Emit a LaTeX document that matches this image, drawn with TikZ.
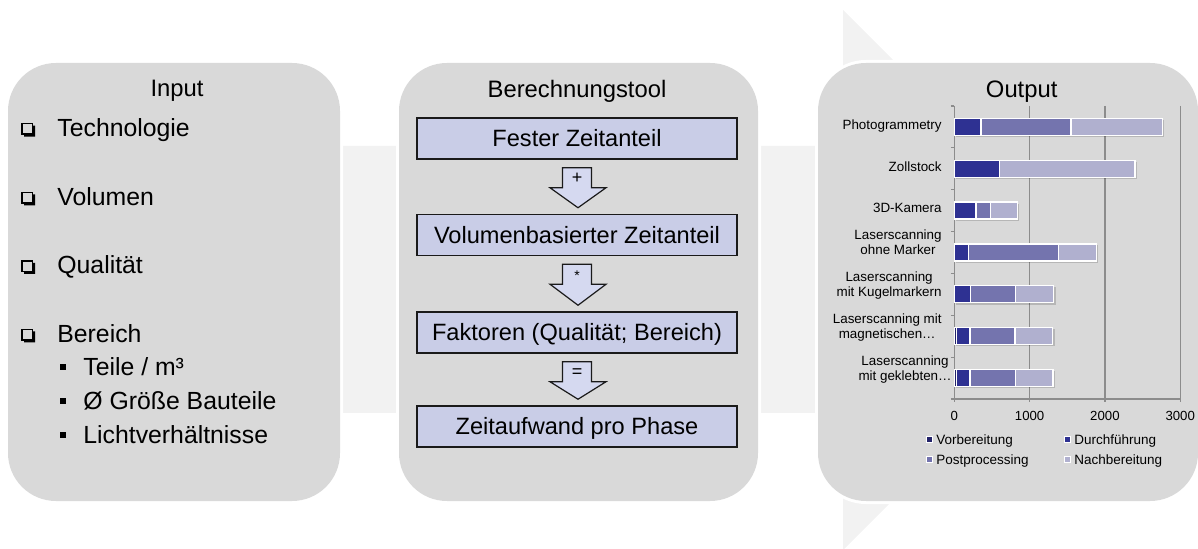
\documentclass[tikz,border=0pt]{standalone}
\usepackage{fontspec}
\setmainfont{Liberation Sans}
\usetikzlibrary{calc}
\definecolor{boxgray}{HTML}{D9D9D9}
\definecolor{bandgray}{HTML}{F2F2F2}
\definecolor{lav}{HTML}{C9CDE7}
\definecolor{lavarrow}{HTML}{D5D9F0}
\definecolor{boxline}{HTML}{1A1A1A}
\definecolor{cvorb}{HTML}{24246A}
\definecolor{cdurch}{HTML}{2E3192}
\definecolor{cpost}{HTML}{7474AE}
\definecolor{cnach}{HTML}{B0B0CF}
\definecolor{gridc}{HTML}{8C8C8C}
\newcommand\chartseg[4]{\filldraw[fill=#4, draw=white, line width=0.6pt] ({954.3+#2*0.0753},{#1-8.5}) rectangle ({954.3+#3*0.0753},{#1+8.5});}
\newcommand\chartshadow[2]{\fill[black,opacity=0.16] (956,{#1-7}) rectangle ({954.3+#2*0.0753+1.8},{#1+10.2});}
\newcommand\chkbox[2]{%
  \draw[line width=0.6pt] (#1-6,#2-13) rectangle (#1+4.5,#2-2.5);
  \fill (#1-4,#2-2.5) -- (#1+4.5,#2-2.5) -- (#1+4.5,#2-11) -- (#1+7,#2-11) -- (#1+7,#2) -- (#1-4,#2) -- cycle;}
\newcommand\subbul[2]{\fill (#1-3,#2-12) rectangle (#1+3,#2-6);}
\newcommand\legmark[3]{\filldraw[fill=#3, draw=white, line width=0.5pt] (#1-3,#2-3) rectangle (#1+3,#2+3);}
\begin{document}
\begin{tikzpicture}[x=0.5pt,y=-0.5pt,
  title/.style={font=\fontsize{11.9}{14}\selectfont, inner sep=0, anchor=base},
  item/.style={font=\fontsize{12.4}{15}\selectfont, inner sep=0, anchor=base west},
  calcbox/.style={draw=boxline, line width=0.75pt, fill=lav, minimum width=160pt, minimum height=20.5pt, inner sep=0, text height=8.5pt, text depth=0pt, font=\fontsize{11.8}{14}\selectfont},
  oplabel/.style={inner sep=0, text height=4pt, text depth=0pt},
  blockarrow/.style={fill=lavarrow, draw=boxline, line width=0.6pt},
  catlabel/.style={font=\fontsize{6.7}{7.5}\selectfont, align=center, inner sep=0, text height=2.4pt, text depth=0pt, anchor=east},
  axlabel/.style={font=\fontsize{6.6}{8}\selectfont, inner sep=0, anchor=base},
  leglabel/.style={font=\fontsize{6.75}{8}\selectfont, inner sep=0, anchor=base west},
  grid line/.style={draw=gridc, line width=0.6pt}
]
\useasboundingbox (0,0) rectangle (1198,549);
% background arrow
\fill[bandgray] (20,146) -- (843,146) -- (843,10) -- (1113,280) -- (843,550) -- (843,413) -- (20,413) -- cycle;
% boxes with white halo
\foreach \l/\r in {8/340, 399/758, 818/1198}{
  \fill[white, rounded corners=25.5pt] (\l-3,60) rectangle (\r+3,504);
  \fill[boxgray, rounded corners=24pt] (\l,63) rectangle (\r,501);
}
% ---------- Input ----------
\node[title] (tin) at (177,97) {Input};
\chkbox{28}{136.6}
\node[item] (i1) at (57,136.6) {Technologie};
\chkbox{28}{205.5}
\node[item] (i2) at (57,205.5) {Volumen};
\chkbox{28}{274}
\node[item] (i3) at (57,274) {Qualität};
\chkbox{28}{342.5}
\node[item] (i4) at (57,342.5) {Bereich};
\subbul{63}{376}
\node[item] (i5) at (83,376) {Teile / m³};
\subbul{63}{410}
\node[item] (i6) at (83,410) {Ø Größe Bauteile};
\subbul{63}{444}
\node[item] (i7) at (83,444) {Lichtverhältnisse};
% ---------- Berechnungstool ----------
\node[title] (tcalc) at (577,97.3) {Berechnungstool};
\node[calcbox] (A) at (577,138.5) {Fester Zeitanteil};
\node[calcbox] (B) at (577,235) {Volumenbasierter Zeitanteil};
\node[calcbox] (C) at (577,332.5) {Faktoren (Qualität; Bereich)};
\node[calcbox] (D) at (577,426.5) {Zeitaufwand pro Phase};
\foreach \s/\t/\op/\fs in {A/B/+/9, B/C/*/7, C/D/=/9}{
  \draw[blockarrow] ($(\s.south)+(-14.5,8)$) -- ($(\s.south)+(14.5,8)$) -- ($(\s.south)+(14.5,28)$) -- ($(\s.south)+(29,28)$) -- ($(\t.north)+(1,-6)$) -- ($(\s.south)+(-27,28)$) -- ($(\s.south)+(-14.5,28)$) -- cycle;
  \node[oplabel, font=\fontsize{\fs}{10}\selectfont] (op\s) at ($(\s.south)+(0,20)$) {\op};
}
% ---------- Output ----------
\node[title] (tout) at (1021.7,97.3) {Output};
% grid
\foreach \g in {1029.6,1104.9,1180.2}{\draw[grid line] (\g,106) -- (\g,399);}
\draw[grid line] (954.3,106) -- (954.3,399) -- (1180.2,399);
\foreach \k in {0,...,7}{\draw[grid line] (950.8,{106+41.86*\k}) -- (954.3,{106+41.86*\k});}
\foreach \g in {954.3,1029.6,1104.9,1180.2}{\draw[grid line] (\g,399) -- (\g,402.5);}
% bars
\chartshadow{126.9}{2762}
\chartseg{126.9}{0}{355}{cdurch}\chartseg{126.9}{355}{1550}{cpost}\chartseg{126.9}{1550}{2762}{cnach}
\chartshadow{168.8}{2400}
\chartseg{168.8}{0}{598}{cdurch}\chartseg{168.8}{598}{2400}{cnach}
\chartshadow{210.6}{837}
\chartseg{210.6}{0}{288}{cdurch}\chartseg{210.6}{288}{478}{cpost}\chartseg{210.6}{478}{837}{cnach}
\chartshadow{252.5}{1886}
\chartseg{252.5}{0}{186}{cdurch}\chartseg{252.5}{186}{1386}{cpost}\chartseg{252.5}{1386}{1886}{cnach}
\chartshadow{294.4}{1320}
\chartseg{294.4}{0}{218}{cdurch}\chartseg{294.4}{218}{815}{cpost}\chartseg{294.4}{815}{1320}{cnach}
\chartshadow{336.2}{1307}
\chartseg{336.2}{0}{30}{cvorb}\chartseg{336.2}{30}{208}{cdurch}\chartseg{336.2}{208}{806}{cpost}\chartseg{336.2}{806}{1307}{cnach}
\chartshadow{378.1}{1310}
\chartseg{378.1}{0}{30}{cvorb}\chartseg{378.1}{30}{208}{cdurch}\chartseg{378.1}{208}{808}{cpost}\chartseg{378.1}{808}{1310}{cnach}
% category labels
\node[catlabel] (c1) at (942,126.9) {Photogrammetry};
\node[catlabel] (c2) at (942,168.8) {Zollstock};
\node[catlabel] (c3) at (942,210.6) {3D-Kamera};
\node[catlabel] (c4) at (942,252.5) {Laserscanning\\ohne Marker};
\node[catlabel] (c5) at (942,294.4) {Laserscanning\\mit Kugelmarkern};
\node[catlabel] (c6) at (942,336.2) {Laserscanning mit\\magnetischen\ldots};
\node[catlabel] (c7) at (952,378.1) {Laserscanning\\mit geklebten\ldots};
% axis labels
\node[axlabel] (a0) at (954.3,420.7) {0};
\node[axlabel] (a1) at (1029.6,420.7) {1000};
\node[axlabel] (a2) at (1104.9,420.7) {2000};
\node[axlabel] (a3) at (1180.2,420.7) {3000};
% legend
\legmark{929.5}{439.5}{cvorb}
\node[leglabel] (l1) at (936,444.3) {Vorbereitung};
\legmark{1067.5}{439.5}{cdurch}
\node[leglabel] (l2) at (1074,444.3) {Durchführung};
\legmark{929.5}{460}{cpost}
\node[leglabel] (l3) at (936,464.7) {Postprocessing};
\legmark{1067.5}{460}{cnach}
\node[leglabel] (l4) at (1074,464.7) {Nachbereitung};
\end{tikzpicture}
\end{document}
